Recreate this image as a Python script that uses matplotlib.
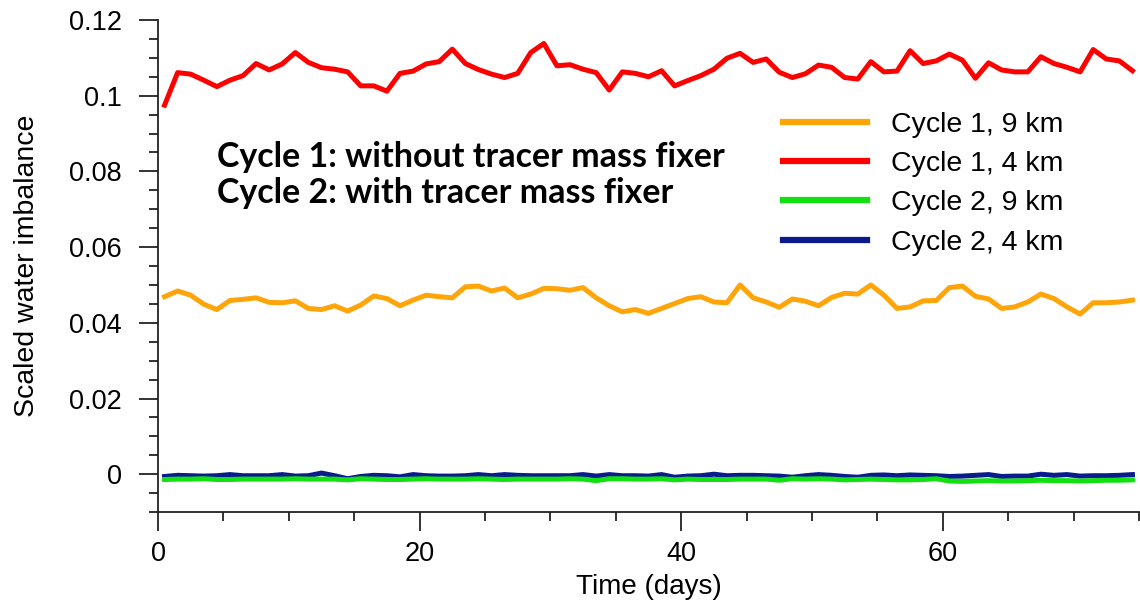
"""Scaled water imbalance for the two cycles, with and without tracer mass fixer."""

import matplotlib
matplotlib.use("Agg")
import matplotlib.pyplot as plt
import numpy as np
from matplotlib.ticker import MultipleLocator, FormatStrFormatter

# daily output, centred on each day
days = np.arange(0.5, 75.0, 1.0)

cycle1_9km = [
    0.0469, 0.0484, 0.0473, 0.0449, 0.0435, 0.0459, 0.0462, 0.0466, 0.0454, 0.0453,
    0.0458, 0.0438, 0.0435, 0.0445, 0.0431, 0.0447, 0.0471, 0.0464, 0.0445, 0.0460,
    0.0473, 0.0469, 0.0466, 0.0495, 0.0497, 0.0484, 0.0492, 0.0466, 0.0476, 0.0491,
    0.0490, 0.0486, 0.0493, 0.0466, 0.0445, 0.0429, 0.0435, 0.0425, 0.0438, 0.0451,
    0.0464, 0.0469, 0.0455, 0.0453, 0.0500, 0.0466, 0.0455, 0.0441, 0.0463, 0.0457,
    0.0445, 0.0467, 0.0478, 0.0476, 0.0500, 0.0473, 0.0438, 0.0442, 0.0458, 0.0459,
    0.0493, 0.0497, 0.0470, 0.0463, 0.0438, 0.0442, 0.0455, 0.0476, 0.0464, 0.0442,
    0.0423, 0.0453, 0.0453, 0.0455, 0.0460,
]
cycle1_4km = [
    0.0975, 0.1061, 0.1057, 0.1041, 0.1024, 0.1041, 0.1053, 0.1085, 0.1068, 0.1084,
    0.1114, 0.1088, 0.1074, 0.1070, 0.1063, 0.1026, 0.1026, 0.1012, 0.1059, 0.1065,
    0.1084, 0.1090, 0.1123, 0.1085, 0.1069, 0.1057, 0.1048, 0.1059, 0.1114, 0.1138,
    0.1079, 0.1082, 0.1070, 0.1061, 0.1015, 0.1063, 0.1059, 0.1050, 0.1066, 0.1026,
    0.1040, 0.1053, 0.1070, 0.1099, 0.1112, 0.1088, 0.1097, 0.1062, 0.1048, 0.1058,
    0.1081, 0.1075, 0.1048, 0.1044, 0.1090, 0.1063, 0.1065, 0.1119, 0.1085, 0.1092,
    0.1110, 0.1094, 0.1046, 0.1087, 0.1068, 0.1063, 0.1063, 0.1103, 0.1085, 0.1075,
    0.1063, 0.1122, 0.1097, 0.1092, 0.1066,
]
cycle2_9km = [
    -0.0014, -0.0013, -0.0013, -0.0012, -0.0014, -0.0014, -0.0013, -0.0013, -0.0013, -0.0013,
    -0.0012, -0.0013, -0.0013, -0.0013, -0.0015, -0.0012, -0.0013, -0.0014, -0.0014, -0.0013,
    -0.0012, -0.0013, -0.0013, -0.0013, -0.0012, -0.0013, -0.0014, -0.0013, -0.0013, -0.0013,
    -0.0013, -0.0012, -0.0013, -0.0017, -0.0012, -0.0012, -0.0013, -0.0013, -0.0012, -0.0015,
    -0.0013, -0.0014, -0.0014, -0.0014, -0.0013, -0.0013, -0.0013, -0.0016, -0.0012, -0.0013,
    -0.0012, -0.0013, -0.0015, -0.0014, -0.0013, -0.0014, -0.0015, -0.0015, -0.0014, -0.0012,
    -0.0018, -0.0019, -0.0018, -0.0017, -0.0018, -0.0018, -0.0017, -0.0016, -0.0017, -0.0017,
    -0.0018, -0.0017, -0.0016, -0.0016, -0.0015,
]
cycle2_4km = [
    -0.0006, -0.0003, -0.0004, -0.0005, -0.0004, -0.0001, -0.0004, -0.0004, -0.0004, -0.0001,
    -0.0005, -0.0004, 0.0003, -0.0004, -0.0012, -0.0006, -0.0003, -0.0004, -0.0007, -0.0001,
    -0.0004, -0.0005, -0.0005, -0.0004, -0.0001, -0.0004, -0.0001, -0.0003, -0.0004, -0.0004,
    -0.0004, -0.0004, -0.0001, -0.0005, -0.0001, -0.0004, -0.0004, -0.0005, -0.0001, -0.0008,
    -0.0005, -0.0004, 0.0000, -0.0004, -0.0003, -0.0003, -0.0004, -0.0005, -0.0008, -0.0004,
    -0.0001, -0.0003, -0.0006, -0.0008, -0.0003, -0.0002, -0.0004, -0.0002, -0.0003, -0.0004,
    -0.0006, -0.0005, -0.0003, -0.0001, -0.0006, -0.0005, -0.0005, 0.0000, -0.0003, -0.0001,
    -0.0005, -0.0004, -0.0004, -0.0003, -0.0001,
]

ORANGE = "#FFA50A"
RED = "#FF0000"
GREEN = "#12E012"
NAVY = "#0A1C8C"

plt.rcParams.update({
    "font.family": ["Liberation Sans", "DejaVu Sans"],
    "font.size": 19,
})

fig = plt.figure(figsize=(11.4, 6.01), dpi=100)
ax = fig.add_axes([0.1386, 0.148, 0.8605, 0.8187])

lw = 3.6
ax.plot(days, cycle1_9km, color=ORANGE, lw=lw, label="Cycle 1, 9 km", zorder=3)
ax.plot(days, cycle1_4km, color=RED, lw=lw, label="Cycle 1, 4 km", zorder=3)
ax.plot(days, cycle2_9km, color=GREEN, lw=lw, label="Cycle 2, 9 km", zorder=3)
ax.plot(days, cycle2_4km, color=NAVY, lw=lw, label="Cycle 2, 4 km", zorder=2)

ax.set_xlim(0, 75)
ax.set_ylim(-0.01, 0.12)
ax.xaxis.set_major_locator(MultipleLocator(20))
ax.xaxis.set_minor_locator(MultipleLocator(5))
ax.yaxis.set_major_locator(MultipleLocator(0.02))
ax.yaxis.set_minor_locator(MultipleLocator(0.005))
ax.yaxis.set_major_formatter(FormatStrFormatter("%g"))

for side in ("top", "right"):
    ax.spines[side].set_visible(False)
for side in ("left", "bottom"):
    ax.spines[side].set_linewidth(1.3)
    ax.spines[side].set_color("#222222")
ax.tick_params(which="major", direction="out", length=14, width=1.3, color="#222222",
               labelsize=19.5, pad=12)
ax.tick_params(axis="x", which="major", pad=7)
ax.tick_params(which="minor", direction="out", length=6.5, width=1.3, color="#222222")

ax.set_xlabel("Time (days)", fontsize=20, labelpad=5)
ax.set_ylabel("Scaled water imbalance", fontsize=20.5, labelpad=21)

ax.text(4.5, 0.0811, "Cycle 1: without tracer mass fixer", fontsize=24.5,
        fontweight="bold", family=["Lato", "DejaVu Sans"], va="baseline")
ax.text(4.5, 0.0716, "Cycle 2: with tracer mass fixer", fontsize=24.5,
        fontweight="bold", family=["Lato", "DejaVu Sans"], va="baseline")

leg = ax.legend(loc="upper left", bbox_to_anchor=(0.637, 0.814), frameon=False,
                fontsize=20.5, handlelength=2.95, handletextpad=0.85, labelspacing=0.47,
                borderpad=0, borderaxespad=0)
for line in leg.get_lines():
    line.set_linewidth(4.5)

fig.savefig("out.png", dpi=100)
